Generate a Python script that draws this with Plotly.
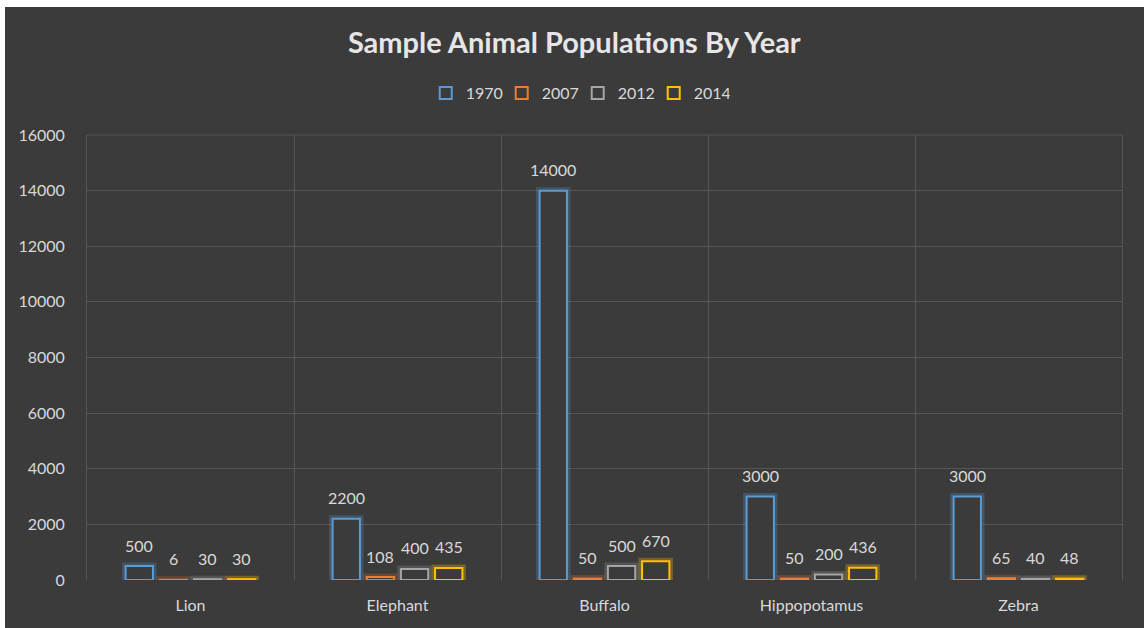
import plotly.graph_objects as go

# Animal population counts per year
animals = ["Lion", "Elephant", "Buffalo", "Hippopotamus", "Zebra"]
years = ["1970", "2007", "2012", "2014"]
pop_1970 = [500, 2200, 14000, 3000, 3000]
pop_2007 = [6, 108, 50, 50, 65]
pop_2012 = [30, 400, 500, 200, 40]
pop_2014 = [30, 435, 670, 436, 48]
y_ticks = [0, 2000, 4000, 6000, 8000, 10000, 12000, 14000, 16000]

series = [pop_1970, pop_2007, pop_2012, pop_2014]
colors = ["#5b9bd5", "#ed7d31", "#a5a5a5", "#ffc000"]
glows = ["rgba(91,155,213,0.28)", "rgba(237,125,49,0.22)",
         "rgba(200,200,200,0.18)", "rgba(255,192,0,0.30)"]

BG = "#3b3b3b"
GRID = "#555555"
TXT = "#d9d9d9"
FONT = "Lato"
W, H = 1144, 628
L, R, T, B = 87, 22, 135, 48
BARGAP, GROUPGAP = 0.34, 0.2

fig = go.Figure()

# soft glow under each outlined bar
for yr, vals, gc in zip(years, series, glows):
    fig.add_trace(go.Bar(
        x=animals, y=vals, offsetgroup=yr, showlegend=False, hoverinfo="skip",
        marker=dict(color="rgba(0,0,0,0)", line=dict(color=gc, width=7)),
    ))

# hollow outlined bars
for yr, vals, c in zip(years, series, colors):
    fig.add_trace(go.Bar(
        x=animals, y=vals, name=yr, offsetgroup=yr,
        marker=dict(color=BG, line=dict(color=c, width=2)),
    ))

# value labels above each bar
slot = (1 - BARGAP) / len(years)
annotations = []
for i, vals in enumerate(series):
    for j, v in enumerate(vals):
        annotations.append(dict(
            x=j + (i - (len(years) - 1) / 2) * slot, y=v, xref="x", yref="y",
            text=str(v), showarrow=False, yanchor="middle", yshift=21,
            font=dict(family=FONT, size=16, color=TXT),
        ))

px_x = lambda p: (p - L) / (W - L - R)
px_y = lambda p: (H - B - p) / (H - T - B)

fig.update_layout(
    width=W, height=H,
    margin=dict(l=L, r=R, t=T, b=B),
    paper_bgcolor="#ffffff",
    plot_bgcolor=BG,
    barmode="group", bargap=BARGAP, bargroupgap=GROUPGAP,
    font=dict(family=FONT, size=16, color=TXT),
    title=dict(text="<b>Sample Animal Populations By Year</b>",
               x=0.502, xanchor="center", y=1 - 43 / H, yref="container",
               yanchor="middle", font=dict(family=FONT, size=29, color="#e6e6e6")),
    legend=dict(orientation="h", x=0.505, xanchor="center", xref="container",
                y=1 - 93 / H, yref="container", yanchor="middle",
                font=dict(family=FONT, size=16, color=TXT),
                itemwidth=30, entrywidth=31, tracegroupgap=0,
                bgcolor="rgba(0,0,0,0)"),
    xaxis=dict(showgrid=True, tickson="boundaries", gridcolor=GRID,
               gridwidth=1, ticks="", showline=False, zeroline=False,
               tickfont=dict(family=FONT, size=16, color=TXT), ticklabelstandoff=14),
    yaxis=dict(range=[0, 16000], tickvals=y_ticks,
               ticktext=[str(t) for t in y_ticks], showgrid=True,
               gridcolor=GRID, gridwidth=1, zeroline=False,
               showline=True, mirror=True, linecolor=GRID, linewidth=1,
               ticks="", tickfont=dict(family=FONT, size=16, color=TXT),
               ticklabelstandoff=18),
    annotations=annotations,
    shapes=[
        dict(type="rect", xref="paper", yref="paper", layer="below",
             x0=px_x(5), x1=px_x(W + 5), y0=px_y(H + 5), y1=px_y(7),
             fillcolor=BG, line=dict(width=0)),
        # top border of the plot area
        dict(type="line", xref="paper", yref="paper", x0=0, x1=1, y0=1, y1=1,
             line=dict(color=GRID, width=1)),
    ],
    showlegend=True,
)

fig.write_html("out.html")
